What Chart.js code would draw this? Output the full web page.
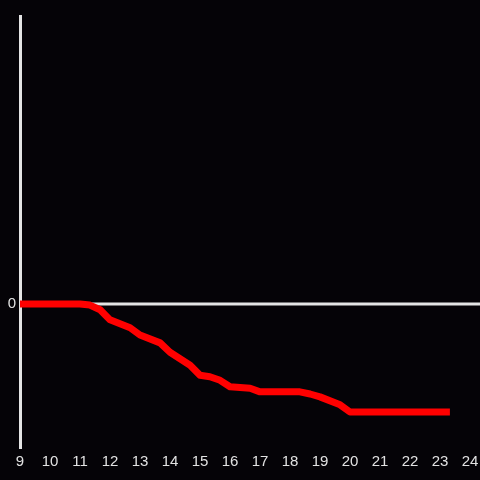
<!DOCTYPE html>
<html>
<head>
<meta charset="utf-8">
<script src="https://cdn.jsdelivr.net/npm/chart.js@4"></script>
<style>
html,body{margin:0;padding:0;background:#050307;}
#wrap{width:480px;height:480px;}
</style>
</head>
<body>
<div id="wrap"><canvas id="c" width="480" height="480"></canvas></div>
<script>
const hours = [9, 11, 11.33, 11.67, 12, 12.67, 13, 13.67, 14, 14.67, 15, 15.33, 15.67, 16, 16.67, 17, 18.33, 18.67, 19, 19.67, 20, 23.33];
const values = [0, 0, -1.5, -8, -22, -33, -43, -54, -67, -85, -99, -101, -106, -115, -117, -122, -122, -125, -129, -140, -150, -150];
const xTicks = [9,10,11,12,13,14,15,16,17,18,19,20,21,22,23,24];
const yTicks = [0];

const zeroLine = {
  id: 'zeroLine',
  beforeDatasetsDraw(chart) {
    const y = chart.scales.y.getPixelForValue(0);
    const ctx = chart.ctx;
    ctx.save();
    ctx.strokeStyle = '#e4e4e4';
    ctx.lineWidth = 3;
    ctx.beginPath();
    ctx.moveTo(chart.chartArea.left, y);
    ctx.lineTo(chart.width, y);
    ctx.stroke();
    ctx.restore();
  }
};

new Chart(document.getElementById('c'), {
  type: 'line',
  data: {
    datasets: [{
      data: hours.map((h, i) => ({x: h, y: values[i]})),
      borderColor: '#ff0000',
      borderWidth: 7,
      pointRadius: 0,
      tension: 0,
      fill: false,
      borderJoinStyle: 'round',
      borderCapStyle: 'butt'
    }]
  },
  options: {
    responsive: false,
    animation: false,
    layout: { padding: { top: 16, right: 10, left: 0, bottom: 0 } },
    plugins: { legend: { display: false }, tooltip: { enabled: false } },
    scales: {
      x: {
        type: 'linear',
        min: 9, max: 24,
        afterBuildTicks: s => { s.ticks = xTicks.map(v => ({value: v})); },
        afterFit: s => { s.height = 32; s.paddingRight = 0; s.paddingLeft = 0; },
        grid: { display: false, drawTicks: false },
        border: { display: false },
        ticks: { color: '#e2e2e2', padding: 5, font: { family: 'Liberation Sans', size: 15 }, maxRotation: 0, autoSkip: false }
      },
      y: {
        min: -200, max: 400,
        afterBuildTicks: s => { s.ticks = yTicks.map(v => ({value: v})); },
        afterFit: s => { s.width = 20; s.paddingTop = 0; s.paddingBottom = 0; },
        grid: { display: false, drawTicks: false },
        border: { display: true, color: '#e4e4e4', width: 3 },
        ticks: { color: '#e2e2e2', padding: 4, font: { family: 'Liberation Sans', size: 15 } }
      }
    }
  },
  plugins: [zeroLine]
});
</script>
</body>
</html>
